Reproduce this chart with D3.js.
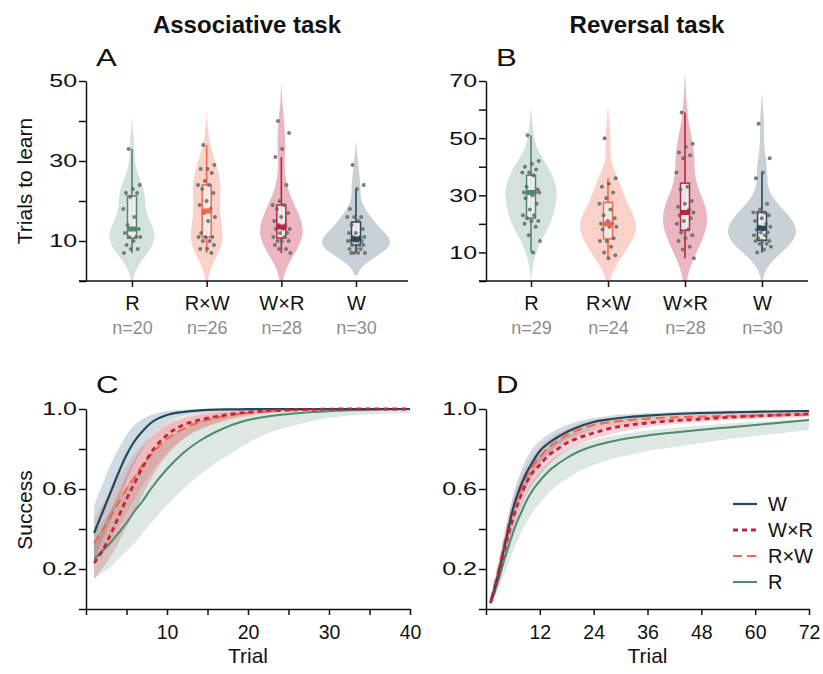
<!DOCTYPE html>
<html>
<head>
<meta charset="utf-8">
<title>Trials to learn and learning curves</title>
<script src="https://cdn.jsdelivr.net/npm/d3@7"></script>
<style>
  body { margin: 0; background: #fff; }
  svg text { font-family: "Liberation Sans", Arial, sans-serif; }
</style>
</head>
<body>
<div id="chart"></div>
<script>

// groups and colours
const groups = ["R", "R×W", "W×R", "W"];
const groupColors = ["#4e8a6b", "#f26a4b", "#be2440", "#23475a"];
const violinAlpha = [0.25, 0.3, 0.33, 0.25];

// trials to learn, associative task (one dot per animal)
const assocR  = [33, 24, 23, 22, 22, 21, 18, 16, 14, 13, 13, 12, 11, 11, 11, 10, 9, 8, 8, 7];
const assocRW = [34, 29, 28, 28, 27, 25, 24, 24, 23, 22, 20, 19, 18, 17, 16, 15, 12, 11, 11, 11, 10, 10, 9, 8, 8, 7];
const assocWR = [40, 37, 33, 31, 24, 20, 19, 19, 18, 17, 16, 15, 14, 14, 13, 13, 13, 12, 12, 11, 11, 10, 10, 10, 9, 8, 8, 7];
const assocW  = [29, 24, 23, 18, 16, 16, 16, 15, 14, 13, 12, 12, 11, 11, 11, 10, 10, 10, 10, 10, 9, 9, 9, 8, 8, 8, 7, 7, 7, 7];

// trials to learn, reversal task
const revR  = [51, 42, 41, 40, 39, 38, 38, 37, 33, 32, 31, 31, 31, 31, 31, 30, 29, 27, 25, 23, 23, 22, 21, 21, 20, 19, 16, 14, 10];
const revRW = [50, 36, 34, 33, 31, 29, 27, 25, 23, 22, 21, 20, 20, 20, 19, 19, 18, 15, 14, 14, 12, 10, 9, 8];
const revWR = [59, 48, 47, 45, 44, 43, 38, 33, 32, 28, 27, 26, 25, 24, 24, 24, 23, 22, 21, 20, 18, 17, 16, 15, 14, 12, 11, 8];
const revW  = [55, 43, 38, 36, 27, 25, 24, 24, 24, 23, 22, 21, 20, 19, 19, 18, 18, 17, 17, 16, 16, 15, 14, 14, 14, 13, 13, 12, 11, 10];

const assocTicks = [0, 10, 20, 30, 40, 50];
const assocTickLabels = [10, 30, 50];
const revTicks = [0, 10, 20, 30, 40, 50, 60, 70];
const revTickLabels = [10, 30, 50, 70];

// learning curves, associative task
const trialsC = [1, 2, 3, 4, 5, 6, 7, 8, 10, 12, 14, 16, 18, 20, 22, 25, 28, 32, 36, 40];
const assocCurveW    = [0.38, 0.48, 0.58, 0.68, 0.77, 0.84, 0.89, 0.93, 0.97, 0.985, 0.993, 0.997, 0.998, 0.999, 1, 1, 1, 1, 1, 1];
const assocCurveWlo  = [0.25, 0.34, 0.44, 0.54, 0.64, 0.73, 0.80, 0.86, 0.93, 0.965, 0.98, 0.99, 0.994, 0.997, 0.998, 0.999, 1, 1, 1, 1];
const assocCurveWhi  = [0.52, 0.62, 0.72, 0.80, 0.87, 0.92, 0.95, 0.97, 0.99, 0.996, 1, 1, 1, 1, 1, 1, 1, 1, 1, 1];
const assocCurveWR   = [0.23, 0.29, 0.37, 0.46, 0.55, 0.63, 0.71, 0.78, 0.87, 0.92, 0.945, 0.962, 0.975, 0.984, 0.99, 0.995, 0.998, 1, 1, 1];
const assocCurveWRlo = [0.15, 0.20, 0.26, 0.33, 0.41, 0.49, 0.57, 0.65, 0.77, 0.85, 0.90, 0.93, 0.955, 0.97, 0.98, 0.99, 0.995, 0.999, 1, 1];
const assocCurveWRhi = [0.33, 0.40, 0.49, 0.58, 0.67, 0.75, 0.81, 0.86, 0.93, 0.96, 0.98, 0.99, 0.995, 0.998, 1, 1, 1, 1, 1, 1];
const assocCurveRW   = [0.33, 0.39, 0.46, 0.53, 0.60, 0.66, 0.72, 0.77, 0.85, 0.90, 0.935, 0.955, 0.97, 0.98, 0.987, 0.993, 0.997, 1, 1, 1];
const assocCurveRWlo = [0.22, 0.28, 0.34, 0.41, 0.48, 0.55, 0.62, 0.68, 0.78, 0.85, 0.895, 0.925, 0.948, 0.963, 0.975, 0.986, 0.993, 0.998, 1, 1];
const assocCurveRWhi = [0.45, 0.52, 0.59, 0.66, 0.72, 0.78, 0.82, 0.86, 0.92, 0.95, 0.97, 0.982, 0.99, 0.995, 0.998, 1, 1, 1, 1, 1];
const assocCurveR    = [0.25, 0.29, 0.33, 0.38, 0.43, 0.49, 0.54, 0.60, 0.70, 0.78, 0.84, 0.885, 0.92, 0.945, 0.96, 0.975, 0.985, 0.993, 0.997, 1];
const assocCurveRlo  = [0.15, 0.18, 0.21, 0.25, 0.29, 0.33, 0.38, 0.43, 0.52, 0.60, 0.67, 0.73, 0.78, 0.83, 0.87, 0.91, 0.94, 0.965, 0.975, 0.98];
const assocCurveRhi  = [0.38, 0.43, 0.49, 0.55, 0.61, 0.67, 0.72, 0.77, 0.85, 0.90, 0.94, 0.96, 0.975, 0.985, 0.99, 0.995, 1, 1, 1, 1];

// learning curves, reversal task
const trialsD = [1, 2, 3, 4, 5, 6, 7, 8, 9, 10, 12, 14, 16, 18, 20, 24, 28, 32, 36, 42, 48, 54, 60, 66, 72];
const revCurveW    = [0.03, 0.11, 0.20, 0.30, 0.40, 0.50, 0.57, 0.63, 0.68, 0.72, 0.79, 0.83, 0.86, 0.885, 0.905, 0.935, 0.95, 0.96, 0.967, 0.975, 0.98, 0.983, 0.986, 0.988, 0.99];
const revCurveWlo  = [0.02, 0.08, 0.16, 0.25, 0.34, 0.43, 0.50, 0.56, 0.61, 0.66, 0.73, 0.78, 0.82, 0.85, 0.87, 0.905, 0.925, 0.94, 0.95, 0.96, 0.967, 0.972, 0.976, 0.979, 0.982];
const revCurveWhi  = [0.05, 0.14, 0.24, 0.35, 0.46, 0.56, 0.64, 0.70, 0.75, 0.79, 0.84, 0.875, 0.90, 0.92, 0.935, 0.955, 0.968, 0.975, 0.98, 0.985, 0.99, 0.992, 0.994, 0.995, 0.996];
const revCurveWR   = [0.03, 0.10, 0.19, 0.28, 0.37, 0.45, 0.52, 0.58, 0.63, 0.67, 0.72, 0.77, 0.80, 0.83, 0.85, 0.88, 0.905, 0.92, 0.93, 0.942, 0.95, 0.958, 0.965, 0.97, 0.975];
const revCurveWRlo = [0.02, 0.07, 0.15, 0.23, 0.31, 0.39, 0.46, 0.52, 0.57, 0.61, 0.67, 0.72, 0.76, 0.79, 0.815, 0.85, 0.875, 0.895, 0.91, 0.925, 0.935, 0.945, 0.953, 0.96, 0.965];
const revCurveWRhi = [0.05, 0.14, 0.24, 0.34, 0.44, 0.52, 0.59, 0.64, 0.69, 0.72, 0.77, 0.81, 0.84, 0.865, 0.88, 0.905, 0.925, 0.94, 0.948, 0.958, 0.965, 0.97, 0.975, 0.98, 0.984];
const revCurveRW   = [0.04, 0.13, 0.22, 0.32, 0.42, 0.50, 0.56, 0.61, 0.66, 0.70, 0.76, 0.81, 0.84, 0.87, 0.89, 0.92, 0.935, 0.945, 0.952, 0.958, 0.962, 0.965, 0.968, 0.97, 0.972];
const revCurveRWlo = [0.03, 0.10, 0.18, 0.27, 0.36, 0.44, 0.50, 0.55, 0.60, 0.64, 0.71, 0.76, 0.80, 0.83, 0.855, 0.89, 0.91, 0.922, 0.93, 0.94, 0.945, 0.95, 0.953, 0.956, 0.958];
const revCurveRWhi = [0.06, 0.17, 0.27, 0.38, 0.48, 0.56, 0.62, 0.67, 0.72, 0.75, 0.81, 0.85, 0.88, 0.90, 0.92, 0.945, 0.955, 0.963, 0.968, 0.972, 0.975, 0.978, 0.98, 0.982, 0.984];
const revCurveR    = [0.03, 0.09, 0.16, 0.24, 0.31, 0.38, 0.44, 0.49, 0.54, 0.58, 0.64, 0.69, 0.725, 0.755, 0.78, 0.815, 0.838, 0.855, 0.868, 0.883, 0.896, 0.908, 0.92, 0.933, 0.945];
const revCurveRlo  = [0.02, 0.06, 0.11, 0.17, 0.23, 0.29, 0.34, 0.39, 0.43, 0.47, 0.53, 0.58, 0.62, 0.65, 0.68, 0.72, 0.75, 0.77, 0.79, 0.81, 0.83, 0.85, 0.865, 0.88, 0.895];
const revCurveRhi  = [0.05, 0.12, 0.20, 0.28, 0.36, 0.43, 0.49, 0.54, 0.59, 0.63, 0.69, 0.735, 0.77, 0.795, 0.815, 0.845, 0.865, 0.88, 0.893, 0.905, 0.917, 0.927, 0.936, 0.943, 0.95];

const successTicks = [0, 0.2, 0.4, 0.6, 0.8, 1.0];
const successTickLabels = [0.2, 0.6, 1.0];
const trialTicksC = [0, 5, 10, 15, 20, 25, 30, 35, 40];
const trialTickLabelsC = [10, 20, 30, 40];
const trialTicksD = [0, 12, 24, 36, 48, 60, 72];
const trialTickLabelsD = [12, 24, 36, 48, 60, 72];

// legend order and line styles
const legendOrder = ["W", "W×R", "R×W", "R"];
const lineDash = { "W": null, "W×R": "5,4", "R×W": "9,5", "R": null };
const lineWidth = { "W": 2.2, "W×R": 2.8, "R×W": 2.2, "R": 2 };
const bandColor = { "W": "#5b7f99", "W×R": "#be2440", "R×W": "#f26a4b", "R": "#4e8a6b" };
const bandAlpha = { "W": 0.28, "W×R": 0.2, "R×W": 0.2, "R": 0.2 };

const W = 823, H = 674;
const svg = d3.select("#chart").append("svg")
    .attr("width", W).attr("height", H);

const color = d3.scaleOrdinal().domain(groups).range(groupColors);

// y tick labels in the figure are drawn wide
const yLabelStretch = 1.35;

function styleAxis(g) {
    g.select(".domain").attr("stroke", "#111").attr("stroke-width", 1.5);
    g.selectAll(".tick line").attr("stroke", "#111").attr("stroke-width", 1.5);
    g.selectAll(".tick text").attr("fill", "#111").attr("font-size", 19.5);
}

function yAxis(y, x0, ticks, labels, fmt) {
    const g = svg.append("g")
        .attr("transform", `translate(${x0},0)`)
        .call(d3.axisLeft(y).tickValues(ticks).tickSize(7).tickSizeOuter(0)
            .tickFormat(d => labels.includes(d) ? fmt(d) : ""));
    styleAxis(g);
    g.selectAll(".tick text")
        .attr("font-size", 18.5)
        .attr("x", -9 / yLabelStretch)
        .attr("transform", `scale(${yLabelStretch},1)`);
    return g;
}

// gaussian kernel density, scott bandwidth like seaborn
function density(vals) {
    const n = vals.length;
    const bw = d3.deviation(vals) * Math.pow(n, -0.2);
    const lo = d3.min(vals) - 2 * bw, hi = d3.max(vals) + 2 * bw;
    const grid = d3.range(101).map(i => lo + (hi - lo) * i / 100);
    return grid.map(t => [t, d3.mean(vals, v => Math.exp(-0.5 * ((t - v) / bw) ** 2)) / (bw * Math.sqrt(2 * Math.PI))]);
}

function jitter(i) {
    return ((i * 0.6180339887 + 0.31) % 1 - 0.5) * 18;
}

function panelLetter(x, y, letter) {
    svg.append("text")
        .attr("transform", `translate(${x},${y}) scale(1.3,1)`)
        .attr("font-size", 24)
        .attr("fill", "#111")
        .text(letter);
}

function violinPanel(data, cfg) {
    const top = 81, bottom = 281;
    const x = d3.scalePoint().domain(groups).range(cfg.catRange);
    const y = d3.scaleLinear().domain([0, cfg.yMax]).range([bottom, top]);

    const clipId = "clip" + cfg.letter;
    svg.append("clipPath").attr("id", clipId)
        .append("rect").attr("x", cfg.x0).attr("y", 0).attr("width", cfg.x1 - cfg.x0).attr("height", bottom);

    const dens = data.map(density);
    const dMax = d3.max(dens, d => d3.max(d, p => p[1]));
    const w = d3.scaleLinear().domain([0, dMax]).range([0, 34]);

    const g = svg.append("g").attr("clip-path", `url(#${clipId})`);

    groups.forEach((grp, k) => {
        const cx = x(grp);
        const vals = data[k].slice().sort(d3.ascending);
        const c = color(grp);

        // violin
        g.append("path")
            .datum(dens[k])
            .attr("fill", c)
            .attr("fill-opacity", violinAlpha[k])
            .attr("d", d3.area()
                .x0(p => cx - w(p[1]))
                .x1(p => cx + w(p[1]))
                .y(p => y(p[0]))
                .curve(d3.curveBasis));

        // box plot
        const q1 = d3.quantileSorted(vals, 0.25);
        const med = d3.quantileSorted(vals, 0.5);
        const q3 = d3.quantileSorted(vals, 0.75);
        const iqr = q3 - q1;
        const wLo = d3.min(vals.filter(v => v >= q1 - 1.5 * iqr));
        const wHi = d3.max(vals.filter(v => v <= q3 + 1.5 * iqr));

        g.append("line")
            .attr("x1", cx).attr("x2", cx)
            .attr("y1", y(wLo)).attr("y2", y(wHi))
            .attr("stroke", c).attr("stroke-width", 1.6);

        g.append("rect")
            .attr("x", cx - 4.5).attr("width", 9)
            .attr("y", y(q3)).attr("height", y(q1) - y(q3))
            .attr("fill", "#efefef").attr("fill-opacity", 0.9)
            .attr("stroke", c).attr("stroke-width", 1.5);

        // dots
        g.selectAll(null)
            .data(data[k])
            .join("circle")
            .attr("cx", (d, i) => cx + jitter(i))
            .attr("cy", d => y(d))
            .attr("r", 2)
            .attr("fill", "#666")
            .attr("fill-opacity", 0.85);

        g.append("rect")
            .attr("x", cx - 5).attr("width", 10)
            .attr("y", y(med) - 2.5).attr("height", 5)
            .attr("fill", c);
    });

    // axes
    yAxis(y, cfg.x0, cfg.ticks, cfg.tickLabels, d => d);

    svg.append("line")
        .attr("x1", cfg.x0 - 7).attr("x2", cfg.x1)
        .attr("y1", bottom).attr("y2", bottom)
        .attr("stroke", "#111").attr("stroke-width", 1.5);

    const xg = svg.append("g")
        .attr("transform", `translate(0,${bottom})`)
        .call(d3.axisBottom(x).tickSize(6).tickPadding(9).tickSizeOuter(0));
    xg.select(".domain").remove();
    styleAxis(xg);
    xg.selectAll(".tick text").attr("font-size", 20);
    xg.selectAll(".tick").append("text")
        .attr("y", 53)
        .attr("fill", "#8c8c8c")
        .attr("font-size", 18)
        .attr("text-anchor", "middle")
        .text((d, i) => "n=" + data[i].length);

    // title and panel letter
    svg.append("text")
        .attr("x", (cfg.x0 + cfg.x1) / 2).attr("y", 33)
        .attr("text-anchor", "middle")
        .attr("font-size", 24).attr("font-weight", "bold")
        .attr("fill", "#111")
        .text(cfg.title);
    panelLetter(cfg.x0 + 10, 66, cfg.letter);
}

function curvePanel(trials, series, cfg) {
    const top = 409, bottom = 609;
    const x = d3.scaleLinear().domain([0, cfg.xMax]).range([cfg.x0, cfg.x1]);
    const y = d3.scaleLinear().domain([0, 1]).range([bottom, top]);

    const rows = s => trials.map((t, i) => ({ t, m: s.mean[i], lo: s.lo[i], hi: s.hi[i] }));

    // bands
    series.forEach(s => {
        svg.append("path")
            .datum(rows(s))
            .attr("fill", bandColor[s.name])
            .attr("fill-opacity", bandAlpha[s.name])
            .attr("d", d3.area()
                .x(d => x(d.t))
                .y0(d => y(d.lo))
                .y1(d => y(d.hi))
                .curve(d3.curveMonotoneX));
    });

    // mean lines
    series.forEach(s => {
        svg.append("path")
            .datum(rows(s))
            .attr("fill", "none")
            .attr("stroke", color(s.name))
            .attr("stroke-width", lineWidth[s.name])
            .attr("stroke-dasharray", lineDash[s.name])
            .attr("d", d3.line()
                .x(d => x(d.t))
                .y(d => y(d.m))
                .curve(d3.curveMonotoneX));
    });

    yAxis(y, cfg.x0, successTicks, successTickLabels, d3.format(".1f"));

    const xg = svg.append("g")
        .attr("transform", `translate(0,${bottom})`)
        .call(d3.axisBottom(x).tickValues(cfg.ticks).tickSize(6).tickPadding(10).tickSizeOuter(0)
            .tickFormat(d => cfg.tickLabels.includes(d) ? d : ""));
    styleAxis(xg);

    svg.append("text")
        .attr("x", (cfg.x0 + cfg.x1) / 2).attr("y", 663)
        .attr("text-anchor", "middle")
        .attr("font-size", 21)
        .attr("fill", "#111")
        .text("Trial");

    panelLetter(cfg.x0 + 10, 393, cfg.letter);
}

// panel A and B
violinPanel([assocR, assocRW, assocWR, assocW], {
    letter: "A", title: "Associative task", x0: 86, x1: 408, catRange: [132, 356],
    yMax: 50, ticks: assocTicks, tickLabels: assocTickLabels
});
violinPanel([revR, revRW, revWR, revW], {
    letter: "B", title: "Reversal task", x0: 486, x1: 808, catRange: [531, 762],
    yMax: 70, ticks: revTicks, tickLabels: revTickLabels
});

// panel C and D (drawn back to front: R, R×W, W, W×R)
curvePanel(trialsC, [
    { name: "R", mean: assocCurveR, lo: assocCurveRlo, hi: assocCurveRhi },
    { name: "R×W", mean: assocCurveRW, lo: assocCurveRWlo, hi: assocCurveRWhi },
    { name: "W", mean: assocCurveW, lo: assocCurveWlo, hi: assocCurveWhi },
    { name: "W×R", mean: assocCurveWR, lo: assocCurveWRlo, hi: assocCurveWRhi }
], { letter: "C", x0: 86, x1: 410, xMax: 40, ticks: trialTicksC, tickLabels: trialTickLabelsC });

curvePanel(trialsD, [
    { name: "R", mean: revCurveR, lo: revCurveRlo, hi: revCurveRhi },
    { name: "R×W", mean: revCurveRW, lo: revCurveRWlo, hi: revCurveRWhi },
    { name: "W", mean: revCurveW, lo: revCurveWlo, hi: revCurveWhi },
    { name: "W×R", mean: revCurveWR, lo: revCurveWRlo, hi: revCurveWRhi }
], { letter: "D", x0: 486, x1: 809, xMax: 72, ticks: trialTicksD, tickLabels: trialTickLabelsD });

// axis titles
svg.append("text")
    .attr("transform", "translate(32,181) rotate(-90)")
    .attr("text-anchor", "middle").attr("font-size", 21).attr("fill", "#111")
    .text("Trials to learn");
svg.append("text")
    .attr("transform", "translate(32,510) rotate(-90)")
    .attr("text-anchor", "middle").attr("font-size", 21).attr("fill", "#111")
    .text("Success");

// legend in panel D
const legend = svg.append("g").attr("transform", "translate(733,504)");
legendOrder.forEach((name, i) => {
    const row = legend.append("g").attr("transform", `translate(0,${i * 26})`);
    row.append("line")
        .attr("x1", 0).attr("x2", 24)
        .attr("stroke", color(name))
        .attr("stroke-width", lineWidth[name])
        .attr("stroke-dasharray", lineDash[name]);
    row.append("text")
        .attr("x", 35).attr("y", 7)
        .attr("font-size", 20).attr("fill", "#111")
        .text(name);
});

</script>
</body>
</html>
